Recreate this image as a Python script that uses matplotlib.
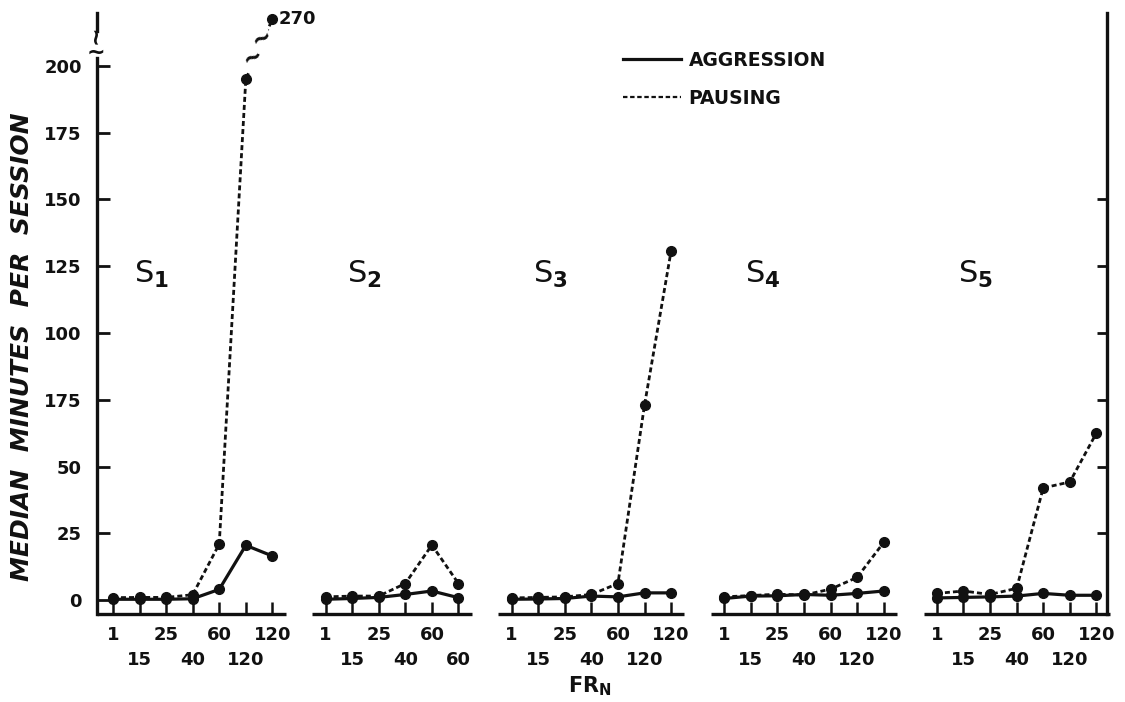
import matplotlib
matplotlib.use("Agg")
import matplotlib.pyplot as plt
import matplotlib.transforms as mtransforms
from matplotlib.lines import Line2D
import numpy as np

# FR values per subject (x tick labels)
fr_labels = ["1", "15", "25", "40", "60", "120", "120"]
fr_labels_s2 = ["1", "15", "25", "40", "60", "60"]

subjects = ["S$_1$", "S$_2$", "S$_3$", "S$_4$", "S$_5$"]

# median minutes per session
aggression_s1 = [0.3, 0.3, 0.3, 0.5, 4.0, 20.5, 16.5]
aggression_s2 = [0.3, 0.6, 1.0, 2.1, 3.4, 0.9]
aggression_s3 = [0.3, 0.4, 0.6, 1.5, 1.2, 2.7, 2.7]
aggression_s4 = [0.6, 1.5, 1.6, 2.1, 1.8, 2.5, 3.4]
aggression_s5 = [0.8, 1.0, 1.2, 1.5, 2.5, 1.8, 1.8]

pausing_s1 = [0.9, 1.0, 1.0, 2.0, 21.0, 195.0, 270.0]
pausing_s2 = [1.2, 1.5, 1.5, 6.2, 20.6, 6.2]
pausing_s3 = [0.8, 1.0, 1.2, 2.1, 6.2, 73.0, 130.7]
pausing_s4 = [1.2, 1.7, 2.2, 1.9, 4.1, 8.5, 21.6]
pausing_s5 = [2.5, 3.4, 2.1, 4.4, 42.0, 44.2, 62.5]

y_ticks = [0, 25, 50, 75, 100, 125, 150, 175, 200]
y_tick_labels = ["0", "25", "50", "175", "100", "125", "150", "175", "200"]
right_ticks = [25, 50, 75, 100, 125, 150]

aggression = [aggression_s1, aggression_s2, aggression_s3, aggression_s4, aggression_s5]
pausing = [pausing_s1, pausing_s2, pausing_s3, pausing_s4, pausing_s5]
labels_per_subject = [fr_labels, fr_labels_s2, fr_labels, fr_labels, fr_labels]

BREAK = 200
SQUEEZE = 0.25


def fwd(y):
    y = np.asarray(y, dtype=float)
    return np.where(y <= BREAK, y, BREAK + (y - BREAK) * SQUEEZE)


def inv(y):
    y = np.asarray(y, dtype=float)
    return np.where(y <= BREAK, y, BREAK + (y - BREAK) / SQUEEZE)


plt.rcParams.update({
    "font.family": "DejaVu Sans",
    "font.weight": "bold",
    "figure.facecolor": "white",
})

INK = "#111111"
fig = plt.figure(figsize=(11.25, 7.02), dpi=100)
ax = fig.add_axes([0.0862, 0.1254, 0.8978, 0.8561])
ax.set_yscale("function", functions=(fwd, inv))

y_low = -5.2
y_top = float(inv(219.8))
x_left, x_right = -0.6, 37.4
ax.set_xlim(x_left, x_right)
ax.set_ylim(y_low, y_top)

dash = (0, (1.8, 1.1))
label_tr = mtransforms.blended_transform_factory(ax.transData, ax.transAxes)
all_pos = []
start = 0
for i in range(5):
    n = len(aggression[i])
    xs = np.arange(start, start + n)
    ax.plot(xs, pausing[i], color=INK, lw=2.0, linestyle=dash,
            marker="o", ms=7, clip_on=False, zorder=3)
    ax.plot(xs, aggression[i], color=INK, lw=2.3, marker="o", ms=7,
            clip_on=False, zorder=4)
    seg_l = x_left if i == 0 else start - 0.5
    ax.hlines(y_low, seg_l, xs[-1] + 0.5, color=INK, lw=2.4, clip_on=False)
    # staggered FR labels: even index on first row, odd on second
    for j, lab in enumerate(labels_per_subject[i]):
        all_pos.append(xs[j])
        row_y = -0.035 if j % 2 == 0 else -0.077
        ax.text(xs[j], row_y, lab, transform=label_tr, fontsize=13,
                ha="center", va="center", color=INK)
    ax.text(start + 1.45, 122, subjects[i], fontsize=22, fontweight="normal",
            ha="center", va="center", color=INK)
    start += n + 1

ax.set_xticks(all_pos)
ax.set_xticklabels([])
ax.tick_params(axis="x", direction="in", length=9, width=1.8, colors=INK)

ax.set_yticks(y_ticks)
ax.set_yticklabels(y_tick_labels, fontsize=13)
ax.yaxis.set_minor_locator(matplotlib.ticker.NullLocator())
ax.yaxis.set_ticks_position("left")
ax.tick_params(axis="y", direction="in", length=9, width=2, pad=11,
               colors=INK)

ax.spines["top"].set_visible(False)
ax.spines["bottom"].set_visible(False)
for side in ["left", "right"]:
    ax.spines[side].set_linewidth(2.4)
    ax.spines[side].set_color(INK)
ax.spines["left"].set_bounds(y_low, 212)
ax.plot([x_left, x_left], [252, y_top], color=INK, lw=2.4, clip_on=False)
ax.text(x_left - 0.05, 220, "~", fontsize=16, ha="center", va="center",
        color=INK)
ax.text(x_left - 0.05, 246, "~", fontsize=16, ha="center", va="center",
        color=INK, rotation=90)

# right axis: inward ticks only from 25 to 150
ax.hlines(right_ticks, x_right - 0.36, x_right, color=INK, lw=2.0)

# break marks on S1 pausing line and value label
ax.text(5.25, 212, "~", fontsize=17, ha="center", va="center",
        rotation=25, color=INK, zorder=5,
        bbox=dict(boxstyle="square,pad=0.0", fc="white", ec="none"))
ax.text(5.6, 240, "~", fontsize=17, ha="center", va="center",
        rotation=25, color=INK, zorder=5,
        bbox=dict(boxstyle="square,pad=0.0", fc="white", ec="none"))
ax.text(6.25, 270, "270", fontsize=13, ha="left", va="center", color=INK)

handles = [Line2D([], [], color=INK, lw=2.3),
           Line2D([], [], color=INK, lw=1.6, linestyle=(0, (2, 1.2)))]
leg = ax.legend(handles, ["AGGRESSION", "PAUSING"], loc="upper left",
                bbox_to_anchor=(623 / 1125, 1 - 51 / 702),
                bbox_transform=fig.transFigure, frameon=False,
                fontsize=13.5, handlelength=3.1, handletextpad=0.4,
                labelspacing=1.0, borderpad=0, borderaxespad=0)
for t in leg.get_texts():
    t.set_color(INK)

fig.text(22 / 1125, 1 - 347 / 702, "MEDIAN  MINUTES  PER  SESSION",
         rotation=90, ha="center", va="center", fontsize=18,
         fontstyle="italic", fontweight="bold", color=INK)
fig.text(590 / 1125, 1 - 686 / 702, r"FR$_\mathbf{N}$", ha="center",
         va="center", fontsize=15, color=INK)

fig.savefig("out.png", dpi=100, facecolor="white")
